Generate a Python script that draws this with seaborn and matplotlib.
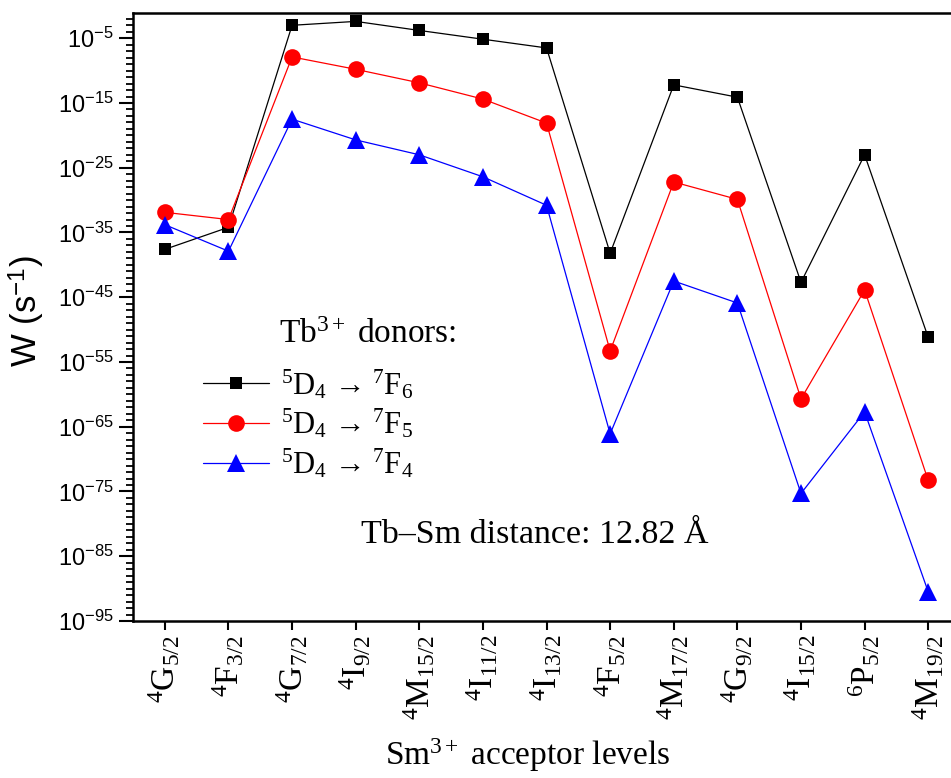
"""
Tb3+ -> Sm3+ energy transfer rates W for each Sm3+ acceptor level,
one series per Tb3+ donor transition (log scale).
"""

import numpy as np
import matplotlib
matplotlib.use("Agg")
import matplotlib.pyplot as plt
import seaborn as sns

sns.set_style("ticks")
plt.rcParams["font.family"] = ["Liberation Serif", "DejaVu Serif"]
plt.rcParams["mathtext.fontset"] = "custom"
plt.rcParams["mathtext.rm"] = "Liberation Serif"
plt.rcParams["mathtext.it"] = "Liberation Serif:italic"
plt.rcParams["mathtext.bf"] = "Liberation Serif:bold"
plt.rcParams["mathtext.sf"] = "Liberation Sans"
for key in ["text.color", "axes.edgecolor", "axes.labelcolor", "xtick.color", "ytick.color"]:
    plt.rcParams[key] = "black"

# acceptor levels (x categories)
levels = [r"$^{4}$G$_{5/2}$", r"$^{4}$F$_{3/2}$", r"$^{4}$G$_{7/2}$", r"$^{4}$I$_{9/2}$",
          r"$^{4}$M$_{15/2}$", r"$^{4}$I$_{11/2}$", r"$^{4}$I$_{13/2}$", r"$^{4}$F$_{5/2}$",
          r"$^{4}$M$_{17/2}$", r"$^{4}$G$_{9/2}$", r"$^{4}$I$_{15/2}$", r"$^{6}$P$_{5/2}$",
          r"$^{4}$M$_{19/2}$"]

# transfer rates W (s^-1)
w_f6 = [2.5e-38, 6.3e-35, 1.0e-3, 4.0e-3, 1.6e-4, 7.1e-6, 3.2e-7,
        6.3e-39, 6.3e-13, 7.9e-15, 2.0e-43, 1.0e-23, 6.3e-52]
w_f5 = [1.3e-32, 1.0e-33, 1.3e-8, 1.6e-10, 1.3e-12, 4.0e-15, 7.9e-19,
        5.0e-54, 6.3e-28, 1.3e-30, 2.0e-61, 1.3e-44, 5.0e-74]
w_f4 = [1.6e-34, 1.3e-38, 3.2e-18, 2.0e-21, 1.0e-23, 4.0e-27, 1.6e-31,
        7.9e-67, 3.2e-43, 1.3e-46, 5.0e-76, 2.0e-63, 3.2e-91]

donors = [r"$^{5}$D$_{4}$ → $^{7}$F$_{6}$",
          r"$^{5}$D$_{4}$ → $^{7}$F$_{5}$",
          r"$^{5}$D$_{4}$ → $^{7}$F$_{4}$"]

# y axis ticks (exponents of 10)
major_exp = [-95, -85, -75, -65, -55, -45, -35, -25, -15, -5]


def main():
    fig = plt.figure(figsize=(9.51, 7.78), dpi=100)
    ax = fig.add_axes([0.1399, 0.2018, 0.8696, 0.7815])

    x = np.arange(len(levels))
    styles = [("black", "s", 9), ("red", "o", 12), ("blue", "^", 13)]
    for vals, label, (color, marker, ms) in zip([w_f6, w_f5, w_f4], donors, styles):
        sns.lineplot(x=x, y=vals, ax=ax, color=color, marker=marker, markersize=ms,
                     markeredgewidth=0, linewidth=0.9, label=label)

    ax.set_yscale("log")
    ax.set_ylim(1e-95, 10 ** -1.1)
    ax.set_xlim(-0.5, 12.5)

    ax.yaxis.set_major_locator(matplotlib.ticker.FixedLocator([10.0 ** e for e in major_exp]))
    ax.yaxis.set_minor_locator(matplotlib.ticker.FixedLocator([10.0 ** e for e in range(-95, -1)]))
    ax.set_yticklabels([r"$\mathsf{10^{%d}}$" % e for e in major_exp], fontsize=17)
    ax.yaxis.set_minor_formatter(matplotlib.ticker.NullFormatter())

    ax.set_xticks(x)
    ax.set_xticklabels(levels, rotation=90, fontsize=24)
    ax.xaxis.set_minor_locator(matplotlib.ticker.NullLocator())

    ax.tick_params(axis="y", which="major", direction="out", length=10, width=1.5, pad=4)
    ax.tick_params(axis="y", which="minor", direction="out", length=5, width=1.3)
    ax.tick_params(axis="x", which="major", direction="out", length=6.5, width=1.5, pad=3.5)
    for side in ["left", "bottom", "top", "right"]:
        ax.spines[side].set_linewidth(1.8)
    ax.set_xlabel("")
    ax.set_ylabel("")

    ax.legend(loc="center left", bbox_to_anchor=(203 / 951, 1 - 424 / 778),
              bbox_transform=fig.transFigure, frameon=False, fontsize=22,
              handlelength=2.15, handletextpad=0.4, labelspacing=0.2,
              borderpad=0, borderaxespad=0)

    fig.text(279 / 951, 1 - 343 / 778, r"Tb$^{3+}$ donors:", fontsize=24, va="baseline")
    fig.text(361 / 951, 1 - 543 / 778, "Tb–Sm distance: 12.82 Å", fontsize=24.5, va="baseline")
    fig.text(385 / 951, 1 - 765 / 778, r"Sm$^{3+}$ acceptor levels", fontsize=24, va="baseline")
    fig.text(27 / 951, 1 - 311 / 778, r"W (s$^{\mathsf{-1}}$)", fontsize=25,
             family="Liberation Sans", rotation=90, ha="center", va="center")

    fig.savefig("out.png", dpi=100)


if __name__ == "__main__":
    main()
